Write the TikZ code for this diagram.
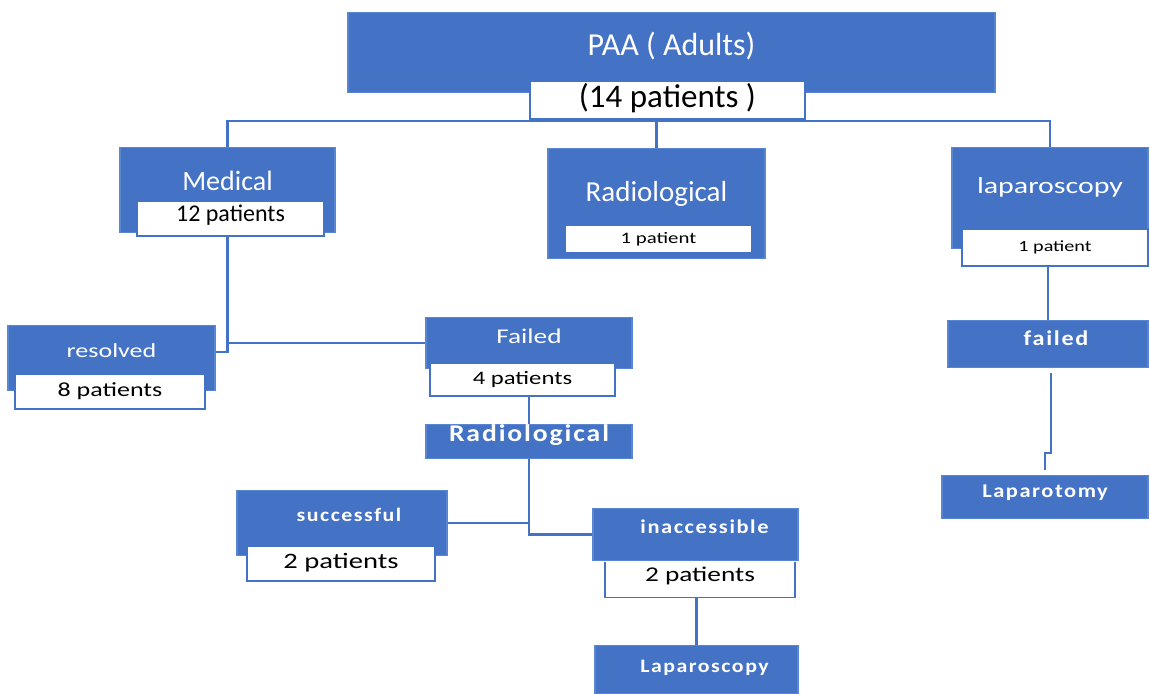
\documentclass[tikz,border=0pt]{standalone}
\usepackage{fontspec}
\setmainfont{Carlito}
\newfontfamily\widefont[FakeStretch=1.3]{Carlito}
\newfontfamily\spacedfont[FakeStretch=1.15, LetterSpace=8]{Carlito Bold}
\usepackage{tikz}
\usetikzlibrary{calc}
\definecolor{boxblue}{HTML}{4472C4}
\definecolor{edgeblue}{HTML}{5A85D2}
\newcommand{\fsz}[1]{\fontsize{#1}{#1}\selectfont}

\begin{document}
\begin{tikzpicture}[x=1pt, y=-1pt,
    blk/.style={fill=boxblue, draw=edgeblue, line width=1.2pt, anchor=north,
                inner ysep=0pt, inner xsep=0pt, text=white},
    sub/.style={fill=white, draw=boxblue, line width=1.5pt, anchor=north,
                inner ysep=0pt, inner xsep=0pt, text=black},
    conn/.style={draw=boxblue, line width=2.5pt}
]
    \useasboundingbox (0,0) rectangle (1150,693);

    % top level
    \node[blk, minimum width=647pt, text height=43pt, text depth=37pt] (paa) at (671.5,12) {\fsz{32}PAA ( Adults)};
    \node[sub, minimum width=275pt, text height=27pt, text depth=11pt] (paan) at (667.5,80) {\fsz{33}(14 patients )};

    % first treatment
    \node[blk, minimum width=215pt, text height=43pt, text depth=42pt] (med) at (227.5,147) {\fsz{28}Medical};
    \node[sub, minimum width=187pt, text height=21pt, text depth=14pt] (medn) at (230.5,200) {\fsz{24}12 patients};
    \node[blk, minimum width=217pt, text height=53pt, text depth=57pt] (rad) at (656.5,148) {\fsz{29}Radiological};
    \node[sub, minimum width=187pt, text height=19pt, text depth=9pt] (radn) at (658.5,224) {\widefont\fsz{16}1 patient};
    \node[blk, minimum width=196pt, text height=46pt, text depth=55pt] (lap) at (1050,147) {\widefont\fsz{23}laparoscopy};
    \node[sub, minimum width=186pt, text height=23pt, text depth=14pt] (lapn) at (1055,228) {\widefont\fsz{15.5}1 patient};

    % after medical
    \node[blk, minimum width=207pt, text height=32pt, text depth=33pt] (res) at (111.5,325) {\widefont\fsz{20}resolved};
    \node[sub, minimum width=190pt, text height=23pt, text depth=12pt] (resn) at (110,373) {\widefont\fsz{20}8 patients};
    \node[blk, minimum width=206pt, text height=26pt, text depth=25pt] (fail) at (529,317) {\widefont\fsz{21}Failed};
    \node[sub, minimum width=185pt, text height=22pt, text depth=11pt] (failn) at (522.5,362) {\widefont\fsz{19}4 patients};
    \node[blk, minimum width=206pt, text height=17pt, text depth=17pt] (rad2) at (529,424) {\spacedfont\fsz{24}Radiological};

    % after radiological
    \node[blk, minimum width=210pt, text height=31pt, text depth=34pt] (succ) at (342,490) {\spacedfont\fsz{19}\hspace{14pt}successful};
    \node[sub, minimum width=188pt, text height=23pt, text depth=12pt] (succn) at (341,545) {\widefont\fsz{22}2 patients};
    \node[blk, minimum width=205pt, text height=25pt, text depth=27pt] (inacc) at (695.5,508) {\spacedfont\fsz{19.5}\hspace{18pt}inaccessible};
    \node[anchor=north, inner sep=0pt, minimum width=190pt, text height=19pt, text depth=16pt] (inaccn) at (700,562) {\widefont\fsz{21}2 patients\hspace{10pt}};
    \draw[draw=boxblue, line width=1.5pt] (inaccn.north west) -- (inaccn.south west)
        -- (inaccn.south east) -- (inaccn.north east);
    \node[blk, minimum width=203pt, text height=27pt, text depth=21pt] (lapb) at (696.5,645) {\spacedfont\fsz{19}\hspace{16pt}Laparoscopy};

    % after laparoscopy
    \node[blk, minimum width=200pt, text height=25pt, text depth=22pt] (rfail) at (1048,320) {\spacedfont\fsz{21}\hspace{16pt}failed};
    \node[blk, minimum width=206pt, text height=22pt, text depth=21pt] (lapt) at (1045,475) {\spacedfont\fsz{19.5}Laparotomy\hspace{8pt}};

    % connectors
    \coordinate (bus) at (656.5,121);
    \draw[conn] (med.north) |- (bus) -| (lap.north);
    \draw[conn] (bus) -- (rad.north);
    \draw[conn] (med.south |- medn.south) |- (fail.west);
    \draw[conn] ([yshift=6pt]res.east) -| (med.south |- fail.west);
    \draw[conn] (fail.south |- failn.south) -- (rad2.north);
    \draw[conn] (rad2.south) |- (inacc.west);
    \draw[conn] (succ.east) -- (succ.east -| rad2.south);
    \draw[conn] (inaccn.south -| lapb.north) -- (lapb.north);
    \draw[conn] (rfail.north |- lapn.south) -- (rfail.north);
    \draw[conn] ([xshift=3pt,yshift=-5pt]rfail.south) -- ++(0,80) -| ([yshift=5pt]lapt.north);
\end{tikzpicture}
\end{document}
